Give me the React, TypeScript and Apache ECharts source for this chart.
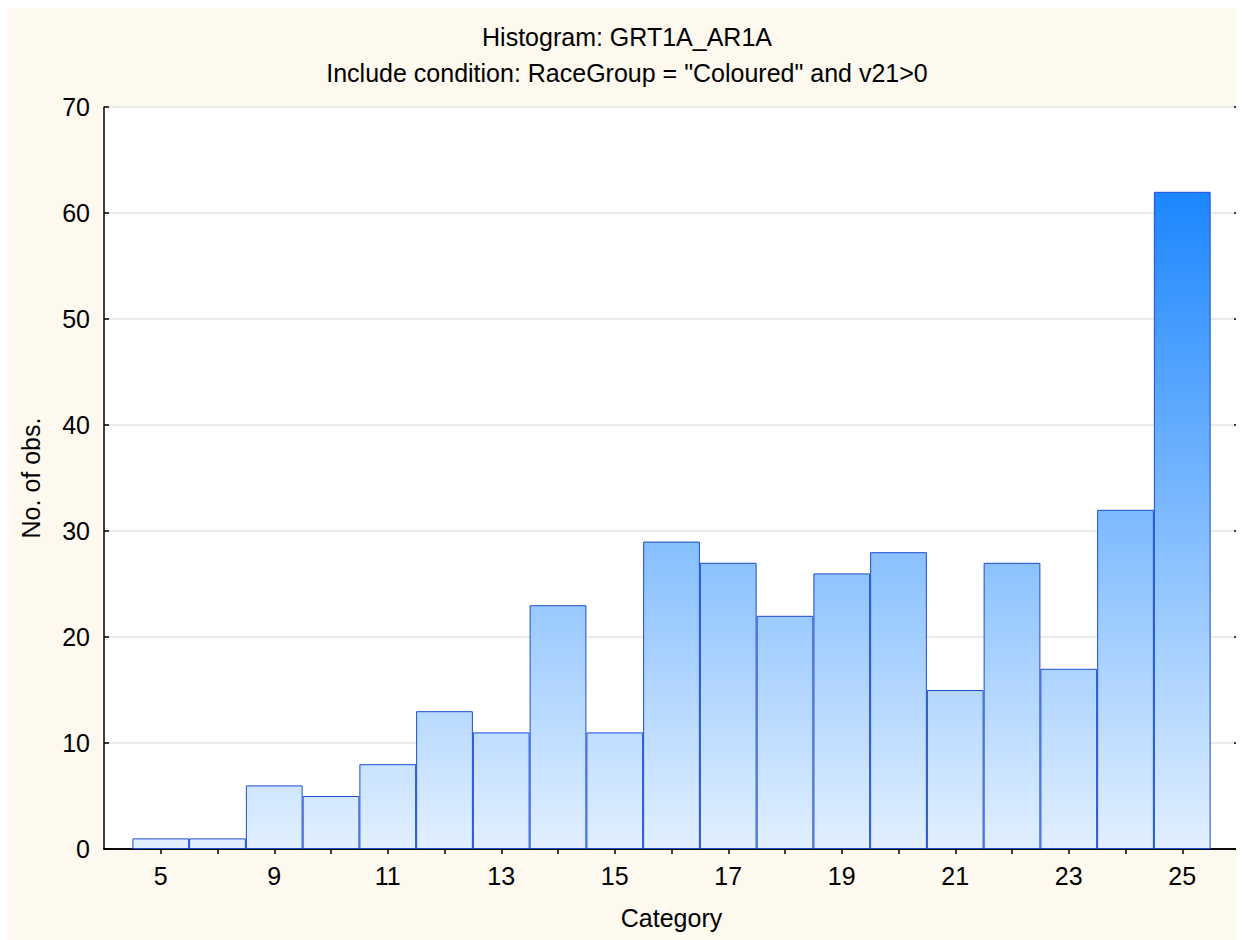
import React, { useEffect, useRef } from "react";
import * as echarts from "echarts";

const titleLine1 = "Histogram: GRT1A_AR1A";
const titleLine2 = 'Include condition: RaceGroup = "Coloured" and v21>0';
const categories = ["5", "7", "9", "10", "11", "12", "13", "14", "15", "16", "17", "18", "19", "20", "21", "22", "23", "24", "25"];
const counts = [1, 1, 6, 5, 8, 13, 11, 23, 11, 29, 27, 22, 26, 28, 15, 27, 17, 32, 62];
const yMin = 0;
const yMax = 70;
const yStep = 10;

const FONT = "'Liberation Sans', Arial, sans-serif";
const FS = 25;

export default function App() {
  const ref = useRef<HTMLDivElement>(null);
  useEffect(() => {
    if (!ref.current) return;
    const chart = echarts.init(ref.current, undefined, { renderer: "svg" });
    const axisCats = ["", ...categories, ""];
    const seriesData: any[] = ["-", ...counts, "-"];
    const last = axisCats.length - 1;
    const gridLeft = 96, gridTop = 99, gridRight = 5, gridBottom = 91;
    const plotH = 932 - gridTop - gridBottom;
    const maxVal = Math.max(...counts);
    const gradTop = gridTop + plotH * (1 - maxVal / yMax);
    const gradBottom = gridTop + plotH;
    const axisLine = { show: true, lineStyle: { color: "#000", width: 1.5 } };
    const tick = { show: true, inside: true, length: 5, lineStyle: { color: "#000", width: 1.5 } };
    chart.setOption({
      animation: false,
      backgroundColor: "#fdf9ee",
      textStyle: { fontFamily: FONT },
      title: [
        { text: titleLine1, left: 614, textAlign: "center", top: 11, textStyle: { fontSize: FS, fontWeight: "normal", color: "#000", fontFamily: FONT } },
        { text: titleLine2, left: 614, textAlign: "center", top: 47, textStyle: { fontSize: FS, fontWeight: "normal", color: "#000", fontFamily: FONT } },
      ],
      grid: { left: gridLeft, top: gridTop, right: gridRight, bottom: gridBottom, show: true, backgroundColor: "#fff", borderWidth: 0, containLabel: false },
      xAxis: [
        {
          type: "category",
          data: axisCats,
          boundaryGap: false,
          axisLine,
          axisTick: { ...tick, interval: (i: number) => i > 0 && i < last },
          axisLabel: { interval: (i: number) => i % 2 === 1, fontSize: FS, color: "#000", margin: 14, fontFamily: FONT },
          splitLine: { show: false },
          name: "Category",
          nameLocation: "middle",
          nameGap: 56,
          nameTextStyle: { fontSize: FS, color: "#000", fontFamily: FONT },
        },
        {
          type: "category",
          data: axisCats,
          boundaryGap: false,
          position: "top",
          axisLine,
          axisTick: { ...tick, interval: (i: number) => i > 0 && i < last },
          axisLabel: { show: false },
          splitLine: { show: false },
        },
      ],
      yAxis: [
        {
          type: "value",
          min: yMin,
          max: yMax,
          interval: yStep,
          axisLine,
          axisTick: tick,
          axisLabel: { fontSize: FS, color: "#000", margin: 14, fontFamily: FONT },
          splitLine: { show: true, lineStyle: { color: "#e3e3e3", width: 1.5 } },
          name: "No. of obs.",
          nameLocation: "middle",
          nameGap: 61,
          nameTextStyle: { fontSize: FS, color: "#000", fontFamily: FONT },
        },
        {
          type: "value",
          min: yMin,
          max: yMax,
          interval: yStep,
          position: "right",
          axisLine,
          axisTick: tick,
          axisLabel: { show: false },
          splitLine: { show: false },
        },
      ],
      series: [
        {
          type: "bar",
          xAxisIndex: 0,
          yAxisIndex: 0,
          data: seriesData,
          barCategoryGap: 0,
          barWidth: "100%",
          itemStyle: {
            color: new echarts.graphic.LinearGradient(0, gradTop, 0, gradBottom, [
              { offset: 0, color: "#1c86ff" },
              { offset: 1, color: "#e2f0ff" },
            ], true),
            borderColor: "#1d4ccf",
            borderWidth: 1,
          },
        },
      ],
    });
    return () => chart.dispose();
  }, []);
  return <div ref={ref} style={{ width: 1236, height: 932 }} />;
}
